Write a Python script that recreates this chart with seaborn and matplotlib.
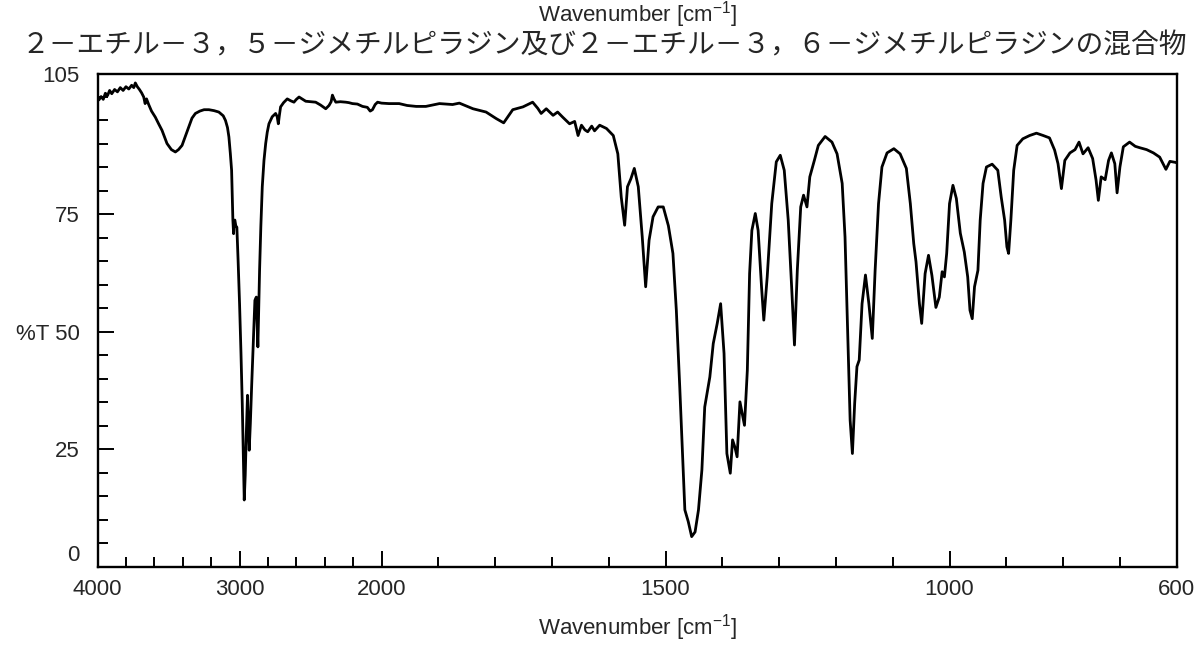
import numpy as np
import pandas as pd
import seaborn as sns
import matplotlib
matplotlib.use('Agg')
import matplotlib.pyplot as plt
from matplotlib.ticker import FixedLocator, FixedFormatter
from matplotlib.transforms import ScaledTranslation

# spectrum (wavenumber cm-1, %T)
wavenumber = [
    4000, 3990, 3975, 3960, 3945, 3930, 3915, 3900, 3880, 3860, 3840, 3820,
    3800, 3780, 3760, 3745, 3734, 3720, 3705, 3690, 3675, 3665, 3655, 3640,
    3620, 3593, 3570, 3546, 3511, 3480, 3452, 3430, 3405, 3380, 3358, 3335,
    3311, 3280, 3250, 3216, 3180, 3146, 3115, 3099, 3085, 3075, 3065, 3056,
    3047, 3042, 3038, 3033, 3026, 3019, 3010, 3000, 2990, 2981, 2974, 2967,
    2960, 2953, 2944, 2938, 2932, 2924, 2915, 2903, 2892, 2882, 2876, 2871,
    2865, 2859, 2850, 2840, 2828, 2816, 2805, 2793, 2770, 2746, 2735, 2727,
    2720, 2711, 2690, 2664, 2640, 2617, 2600, 2581, 2560, 2534, 2500, 2464,
    2430, 2393, 2370, 2355, 2346, 2335, 2322, 2290, 2252, 2230, 2205, 2170,
    2134, 2100, 2080, 2064, 2045, 2028, 2000, 1987, 1969, 1955, 1939, 1922,
    1898, 1875, 1863, 1839, 1816, 1798, 1785, 1769, 1751, 1734, 1725, 1719,
    1710, 1698, 1690, 1681, 1669, 1660, 1654, 1648, 1642, 1637, 1630, 1625,
    1616, 1604, 1592, 1584, 1578, 1572, 1567, 1561, 1555, 1548, 1541, 1535,
    1529, 1522, 1513, 1504, 1495, 1487, 1481, 1475, 1469, 1466, 1460, 1454,
    1448, 1442, 1436, 1431, 1422, 1416, 1409, 1403, 1397, 1392, 1386, 1382,
    1378, 1374, 1369, 1365, 1361, 1356, 1352, 1348, 1342, 1337, 1331, 1327,
    1321, 1313, 1305, 1298, 1291, 1284, 1278, 1273, 1268, 1262, 1257, 1251,
    1246, 1238, 1231, 1219, 1207, 1198, 1189, 1184, 1179, 1175, 1171, 1167,
    1163, 1159, 1154, 1148, 1142, 1136, 1131, 1125, 1119, 1110, 1098, 1087,
    1076, 1069, 1063, 1059, 1053, 1049, 1043, 1037, 1031, 1024, 1018, 1013,
    1009, 1005, 1000, 994, 988, 981, 974, 968, 964, 960, 956, 950,
    946, 941, 935, 925, 915, 909, 903, 899, 896, 892, 887, 881,
    871, 859, 847, 835, 824, 815, 809, 803, 797, 788, 779, 772,
    765, 756, 748, 742, 738, 733, 726, 720, 715, 709, 705, 700,
    694, 683, 673, 665, 653, 641, 630, 619, 612, 603, 600,
]
transmittance = [
    99.3, 99.4, 100.1, 99.5, 100.8, 100.3, 101.4, 100.7, 101.6, 101.1, 102.0, 101.4,
    102.2, 101.7, 102.5, 102.0, 103.0, 102.2, 101.6, 100.9, 100.0, 98.6, 99.6, 98.4,
    97.0, 95.7, 94.3, 92.9, 90.1, 88.8, 88.3, 88.8, 89.7, 91.8, 93.6, 95.5,
    96.5, 97.0, 97.3, 97.3, 97.1, 96.8, 96.0, 95.0, 93.5, 91.5, 88.0, 84.4,
    73.8, 70.9, 73.5, 73.8, 72.5, 72.3, 65.0, 56.0, 45.5, 34.8, 24.0, 14.2,
    19.5, 27.7, 36.5, 30.0, 24.8, 30.5, 38.3, 48.0, 56.7, 57.4, 52.0, 46.8,
    55.0, 63.1, 72.5, 80.9, 86.5, 90.1, 92.5, 94.3, 95.8, 96.5, 95.8, 94.3,
    96.0, 97.9, 98.8, 99.6, 99.2, 98.9, 99.5, 100.0, 99.6, 99.1, 99.0, 98.9,
    98.3, 97.5, 98.2, 99.0, 100.4, 99.6, 98.9, 99.0, 98.9, 98.8, 98.6, 98.5,
    98.0, 97.8, 97.0, 97.3, 98.4, 98.9, 98.7, 98.6, 98.6, 98.2, 98.0, 98.0,
    98.6, 98.4, 98.7, 97.5, 96.8, 95.4, 94.5, 97.3, 97.9, 98.9, 97.6, 96.5,
    97.5, 96.1, 96.8, 95.7, 94.3, 94.8, 91.8, 94.0, 93.0, 92.6, 93.8, 92.8,
    94.0, 93.3, 91.8, 87.9, 78.7, 72.7, 80.9, 82.6, 84.8, 80.9, 70.2, 59.6,
    69.5, 74.5, 76.6, 76.6, 72.6, 66.7, 54.6, 38.3, 20.6, 12.1, 9.6, 6.4,
    7.4, 12.1, 20.6, 34.0, 40.4, 47.5, 51.8, 56.0, 45.4, 24.1, 19.9, 27.0,
    25.5, 23.4, 35.1, 32.6, 30.1, 41.8, 62.4, 71.6, 75.2, 71.6, 59.6, 52.5,
    61.7, 77.3, 86.2, 87.6, 84.4, 73.8, 59.6, 47.2, 63.1, 76.6, 79.1, 76.6,
    83.0, 86.5, 89.7, 91.6, 90.4, 87.9, 81.6, 70.2, 48.9, 31.2, 24.1, 34.8,
    42.6, 44.0, 56.0, 62.1, 56.0, 48.6, 63.1, 77.3, 85.1, 88.1, 89.0, 87.9,
    84.8, 77.3, 68.8, 64.9, 56.0, 51.8, 62.4, 66.3, 62.0, 55.2, 57.4, 62.8,
    61.7, 66.7, 77.3, 81.2, 78.4, 71.0, 67.0, 61.7, 54.6, 52.8, 59.6, 63.1,
    73.8, 81.6, 85.1, 85.7, 84.4, 78.7, 73.8, 68.1, 66.7, 73.8, 84.4, 89.7,
    91.1, 91.8, 92.3, 91.8, 91.3, 88.7, 85.8, 80.5, 86.5, 88.1, 88.8, 90.4,
    87.9, 89.2, 86.9, 82.3, 78.0, 83.0, 82.4, 86.5, 88.1, 85.8, 79.6, 85.1,
    89.4, 90.4, 89.5, 89.2, 88.8, 88.1, 87.2, 84.6, 86.3, 86.1, 86.0,
]

x_major = [4000, 3000, 2000, 1500, 1000, 600]
x_major_labels = ['4000', '3000', '2000', '1500', '1000', '600']
x_minor = [3800, 3600, 3400, 3200, 2800, 2600, 2400, 2200,
           1900, 1800, 1700, 1600, 1400, 1300, 1200, 1100, 900, 800, 700]
y_major = [0, 25, 50, 75, 105]
y_major_labels = ['0', '25', '%T 50', '75', '105']
y_minor = [5, 10, 15, 20, 30, 35, 40, 45, 55, 60, 65, 70, 80, 85, 90, 95, 100]

title = '２－エチル－３，５－ジメチルピラジン及び２－エチル－３，６－ジメチルピラジンの混合物'
xlabel = 'Wavenumber [cm$^{-1}$]'

df = pd.DataFrame({'wn': wavenumber, 'T': transmittance})

sns.set_style('ticks')
plt.rcParams['font.family'] = ['Liberation Sans', 'DejaVu Sans']
plt.rcParams['mathtext.fontset'] = 'custom'
plt.rcParams['mathtext.rm'] = 'Liberation Sans'
plt.rcParams['mathtext.it'] = 'Liberation Sans'


# region above 2000 cm-1 is compressed 4x, like the instrument plot
def fwd(x):
    x = np.asarray(x, dtype=float)
    return np.where(x > 2000, 2000 + (x - 2000) / 4.0, x)


def inv(x):
    x = np.asarray(x, dtype=float)
    return np.where(x > 2000, 2000 + (x - 2000) * 4.0, x)


fig = plt.figure(figsize=(12, 6.45), dpi=100)
ax = fig.add_axes([0.0813, 0.1214, 0.8993, 0.7646])

sns.lineplot(data=df, x='wn', y='T', ax=ax, color='black', linewidth=2.0,
             sort=False, estimator=None)

ax.set_xscale('function', functions=(fwd, inv))
ax.set_xlim(4000, 600)
ax.set_ylim(0, 105)

ax.xaxis.set_major_locator(FixedLocator(x_major))
ax.xaxis.set_major_formatter(FixedFormatter(x_major_labels))
ax.xaxis.set_minor_locator(FixedLocator(x_minor))
ax.yaxis.set_major_locator(FixedLocator(y_major))
ax.yaxis.set_major_formatter(FixedFormatter(y_major_labels))
ax.yaxis.set_minor_locator(FixedLocator(y_minor))

ax.tick_params(axis='both', which='both', direction='in', bottom=True, left=True,
               top=False, right=False, width=1.4, color='black', labelsize=16)
ax.tick_params(axis='both', which='major', length=11.5)
ax.tick_params(axis='both', which='minor', length=7)
ax.tick_params(axis='x', which='major', pad=9)
ax.tick_params(axis='y', which='major', pad=13)

for sp in ax.spines.values():
    sp.set_visible(True)
    sp.set_linewidth(1.7)
    sp.set_color('black')

# the "0" label sits a bit above the axis corner in the original
for lab in ax.get_yticklabels():
    if lab.get_text() == '0':
        lab.set_transform(lab.get_transform() + ScaledTranslation(0, 14 / 100, fig.dpi_scale_trans))

ax.set_xlabel('')
ax.set_ylabel('')

fig.text(638 / 1200, 1 - 628 / 645, xlabel, ha='center', va='center', fontsize=16)
fig.text(638 / 1200, 1 - 15 / 645, xlabel, ha='center', va='center', fontsize=16)
fig.text(604 / 1200, 1 - 45 / 645, title, ha='center', va='center', fontsize=20,
         family=['Noto Sans CJK JP', 'DejaVu Sans'])

fig.savefig('out.png', dpi=100)
